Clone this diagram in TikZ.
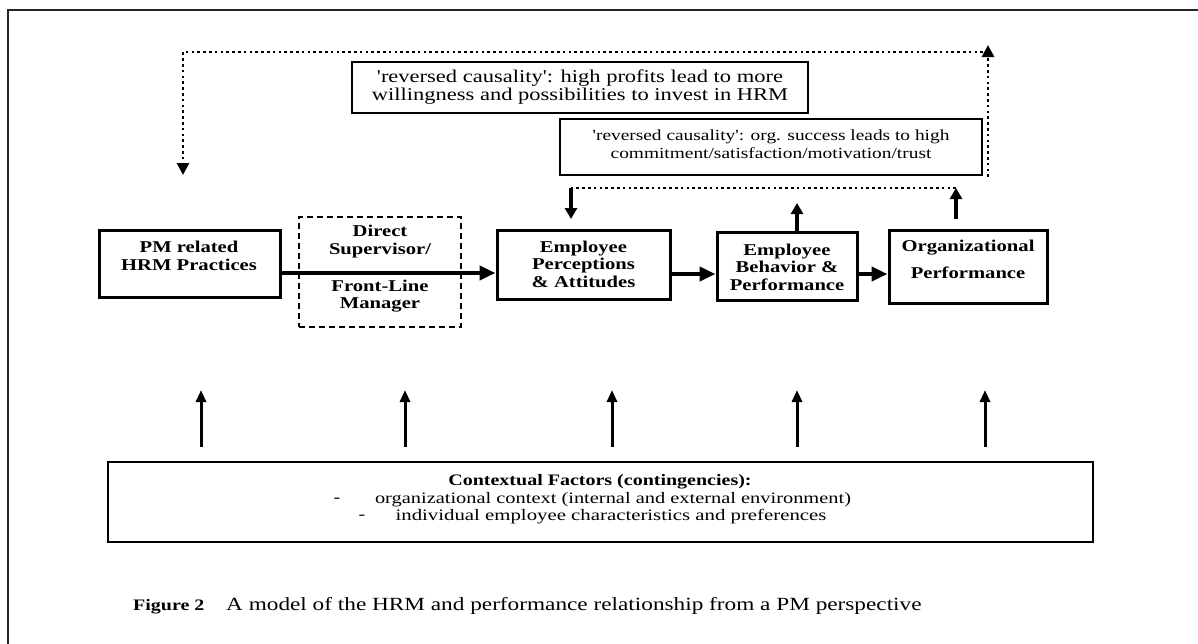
\documentclass[tikz,border=0pt]{standalone}
\usepackage{fontspec}
\setmainfont{Liberation Serif}[FakeStretch=1.25]
\newfontfamily\notefont{Liberation Serif}[FakeStretch=1.25, Ligatures=TeXOff]
\usetikzlibrary{arrows.meta}

\begin{document}
\begin{tikzpicture}[x=1pt, y=-1pt,
  mainbox/.style={draw, line width=3pt, inner sep=0pt},
  dashbox/.style={draw, line width=1.2pt, dash pattern=on 6pt off 4pt, inner sep=0pt},
  notebox/.style={draw, line width=1.4pt, inner sep=0pt},
  ctxbox/.style={draw, line width=2pt, inner sep=0pt},
  boxtext/.style={font=\bfseries\fontsize{16.5}{17.5}\selectfont, align=center, inner sep=0pt},
  notetext/.style={align=center, inner sep=0pt},
  ctxtext/.style={font=\fontsize{16}{17.5}\selectfont, inner sep=0pt},
  captext/.style={inner sep=0pt, anchor=base west},
  dotline/.style={line width=2.8pt, dash pattern=on 2.6pt off 3.2pt},
  bigarrow/.style={line width=4pt, -{Triangle[length=16pt,width=14pt]}},
  smallarrow/.style={line width=4pt, -{Triangle[length=11pt,width=12pt]}},
  ctxarrow/.style={line width=3pt, -{Triangle[length=12pt,width=10pt]}},
  looptip/.style={-{Triangle[length=12pt,width=12pt]}}
]
\useasboundingbox (0,0) rectangle (1198,643);

% page frame
\draw[line width=2.5pt, black!85] (8,660) -- (8,10) -- (1210,10);

% notes on reversed causality
\node[notebox, minimum width=456pt, minimum height=51pt] (rev1) at (580,87.5) {};
\node[notetext, font=\notefont\fontsize{18}{18.5}\selectfont] (rev1text) at (580,87)
  {'reversed causality': high profits lead to more\\willingness and possibilities to invest in HRM};
\node[notebox, minimum width=422pt, minimum height=56pt] (rev2) at (771,147) {};
\node[notetext, font=\notefont\fontsize{15.5}{18}\selectfont] (rev2text) at (771,144)
  {'reversed causality': org. success leads to high\\commitment/satisfaction/motivation/trust};

% main chain
\node[mainbox, minimum width=181pt, minimum height=67pt] (pm) at (189.5,263.5) {};
\node[boxtext] (pmtext) at (189,256) {PM related\\HRM Practices};

\node[dashbox, minimum width=162pt, minimum height=110pt] (sup) at (380,272) {};
\node[boxtext] (suptop) at (380,241.5) {Direct\\Supervisor/};
\node[boxtext] (supbot) at (380,296) {Front-Line\\Manager};

\node[mainbox, minimum width=173pt, minimum height=69pt] (ep) at (583.5,264.5) {};
\node[boxtext] (eptext) at (583.5,264) {Employee\\Perceptions\\\& Attitudes};

\node[mainbox, minimum width=140pt, minimum height=68pt] (eb) at (787,266) {};
\node[boxtext] (ebtext) at (787,267) {Employee\\Behavior \&\\Performance};

\node[mainbox, minimum width=158pt, minimum height=73pt] (op) at (968,266.5) {};
\node[boxtext] (optext) at (968,259.5) {Organizational\\[9.5pt]Performance};

\draw[bigarrow] (pm.east |- 0,273) -- (ep.west |- 0,273);
\draw[bigarrow] (ep.east |- 0,274) -- (eb.west |- 0,274);
\draw[bigarrow] (eb.east |- 0,274) -- (op.west |- 0,274);

% feedback loops
\coordinate (outerR) at (988,177);
\coordinate (outerRtip) at (988,45);
\coordinate (outerRT) at (983,52);
\coordinate (outerLT) at (183,52);
\coordinate (outerL) at (183,175);
\draw[dotline, looptip] (outerR) -- (outerRtip);
\draw[dotline, looptip] (outerRT) -- (outerLT) -- (outerL);

\coordinate (innerR) at (956,188);
\coordinate (innerL) at (571,188);
\coordinate (innerLfoot) at (571,219);
\coordinate (opfoot) at (956,219);
\coordinate (ebfoot) at (797,232);
\coordinate (ebtip) at (797,203);
\draw[dotline] (innerR) -- (innerL);
\draw[smallarrow] (innerL) -- (innerLfoot);
\draw[smallarrow] (opfoot) -- (innerR);
\draw[smallarrow] (ebfoot) -- (ebtip);

% contextual factors
\node[ctxbox, minimum width=985pt, minimum height=80pt] (ctx) at (600.5,502) {};
\node[ctxtext, font=\bfseries\fontsize{16}{17.5}\selectfont] (ctxhead) at (600,482)
  {Contextual Factors (contingencies):};
\node[ctxtext] (dash1) at (337,500) {-};
\node[ctxtext] (ctxline1) at (613,500)
  {\scalebox{1.02}[1]{organizational context (internal and external environment)}};
\node[ctxtext] (dash2) at (362,517) {-};
\node[ctxtext] (ctxline2) at (611,517)
  {\scalebox{1.04}[1]{individual employee characteristics and preferences}};

\foreach \x [count=\i] in {201,405,612,797,985} {
  \coordinate (ctxfoot\i) at (\x,447);
  \coordinate (ctxtip\i) at (\x,390);
  \draw[ctxarrow] (ctxfoot\i) -- (ctxtip\i);
}

% caption
\node[captext, font=\bfseries\fontsize{16}{18}\selectfont] (figlabel) at (133,610) {Figure 2};
\node[captext, font=\fontsize{18.6}{18}\selectfont] (figcaption) at (226,610)
  {A model of the HRM and performance relationship from a PM perspective};
\end{tikzpicture}
\end{document}
